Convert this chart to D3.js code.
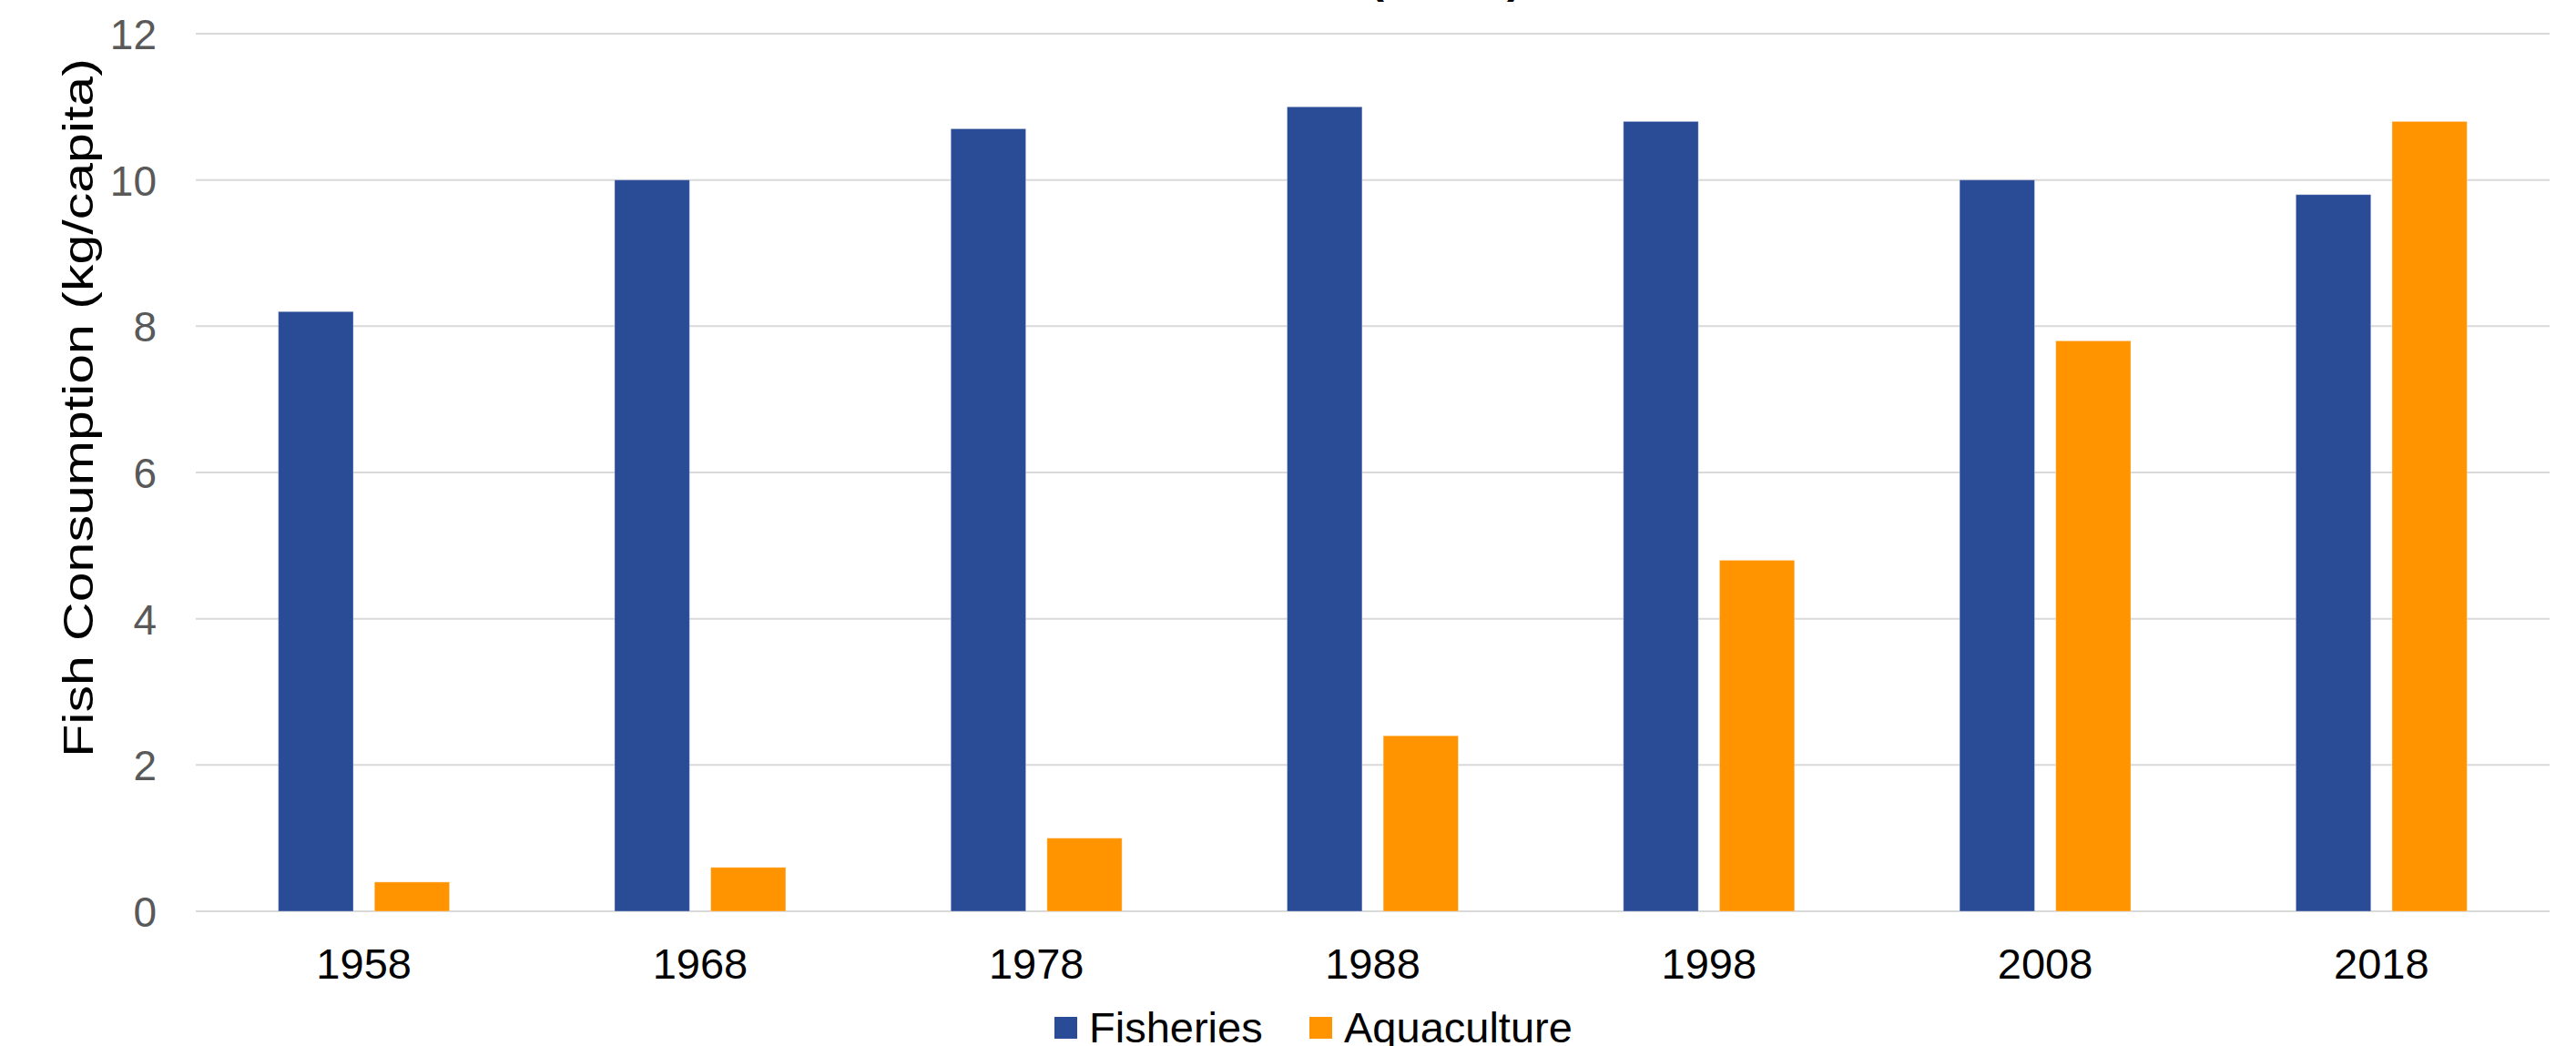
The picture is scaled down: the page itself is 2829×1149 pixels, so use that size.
<!DOCTYPE html>
<html>
<head>
<meta charset="utf-8">
<script src="https://cdn.jsdelivr.net/npm/d3@7"></script>
<style>
  html, body { margin: 0; padding: 0; background: #ffffff; overflow: hidden; }
  svg { display: block; font-family: "Liberation Sans", Arial, sans-serif; }
</style>
</head>
<body>
<svg id="chart" width="2829" height="1149"></svg>
<script>
// Per-capita fish consumption by source, every ten years
const years = ["1958", "1968", "1978", "1988", "1998", "2008", "2018"];
const seriesNames = ["Fisheries", "Aquaculture"];
const fisheries = [8.2, 10.0, 10.7, 11.0, 10.8, 10.0, 9.8];
const aquaculture = [0.4, 0.6, 1.0, 2.4, 4.8, 7.8, 10.8];
const yTicks = [0, 2, 4, 6, 8, 10, 12];
const seriesColors = ["#2A4B96", "#FF9300"];
const titleText = "Fish Sources (World)";
const yTitle = "Fish Consumption (kg/capita)";

const rows = years.map((y, i) => ({ year: y, values: [fisheries[i], aquaculture[i]] }));

const svg = d3.select("#chart");
const plot = { left: 215, right: 2800, top: 37, bottom: 1001 };

const x0 = d3.scaleBand().domain(years).range([plot.left, plot.right]).paddingInner(0).paddingOuter(0);
const bw = x0.bandwidth();
const x1 = d3.scaleBand().domain(seriesNames)
  .range([bw * 0.2455, bw * 0.7545]).paddingInner(0.22).paddingOuter(0);
const y = d3.scaleLinear().domain([0, 12]).range([plot.bottom, plot.top]);

// Chart title (sits mostly above the visible area)
svg.append("text")
  .attr("x", 1671).attr("y", -8)
  .attr("text-anchor", "end")
  .attr("font-size", 48).attr("font-weight", "bold").attr("fill", "#000")
  .text(titleText);

// Horizontal gridlines
svg.append("g").selectAll("line").data(yTicks).join("line")
  .attr("x1", plot.left).attr("x2", plot.right)
  .attr("y1", d => y(d)).attr("y2", d => y(d))
  .attr("stroke", "#d9d9d9").attr("stroke-width", 2);

// Y axis tick labels
const yAxis = d3.axisLeft(y).tickValues(yTicks).tickSize(0).tickPadding(0);
const gy = svg.append("g").attr("transform", "translate(172,0)").call(yAxis);
gy.select(".domain").remove();
gy.selectAll("text")
  .attr("font-size", 46).attr("fill", "#595959")
  .attr("font-family", "'Liberation Sans', Arial, sans-serif")
  .attr("dy", "0.36em");

// Bars
const groups = svg.append("g").selectAll("g").data(rows).join("g")
  .attr("transform", d => `translate(${x0(d.year)},0)`);
groups.selectAll("rect")
  .data(d => d.values.map((v, i) => ({ name: seriesNames[i], value: v, idx: i })))
  .join("rect")
  .attr("x", d => x1(d.name))
  .attr("width", x1.bandwidth())
  .attr("y", d => y(d.value))
  .attr("height", d => y(0) - y(d.value))
  .attr("fill", d => seriesColors[d.idx])
  .attr("stroke", "rgba(255,255,255,0.35)")
  .attr("stroke-width", 1);

// Category axis labels
const xAxis = d3.axisBottom(x0).tickSize(0).tickPadding(0);
const gx = svg.append("g").attr("transform", `translate(0,${plot.bottom})`).call(xAxis);
gx.select(".domain").remove();
gx.selectAll("text")
  .attr("font-size", 47).attr("fill", "#000")
  .attr("font-family", "'Liberation Sans', Arial, sans-serif")
  .attr("dy", null)
  .attr("y", 74);

// Y axis title (stretched along its length)
svg.append("text")
  .attr("transform", "translate(102,448) rotate(-90) scale(1.256,1)")
  .attr("text-anchor", "middle")
  .attr("font-size", 47).attr("fill", "#000")
  .text(yTitle);

// Legend
const legendX = [1158, 1438];
const legend = svg.append("g").selectAll("g").data(seriesNames).join("g")
  .attr("transform", (d, i) => `translate(${legendX[i]},0)`);
legend.append("rect")
  .attr("x", 0).attr("y", 1117).attr("width", 25).attr("height", 24)
  .attr("fill", (d, i) => seriesColors[i]);
legend.append("text")
  .attr("x", 38).attr("y", 1145)
  .attr("font-size", 47).attr("fill", "#000")
  .text(d => d);
</script>
</body>
</html>
